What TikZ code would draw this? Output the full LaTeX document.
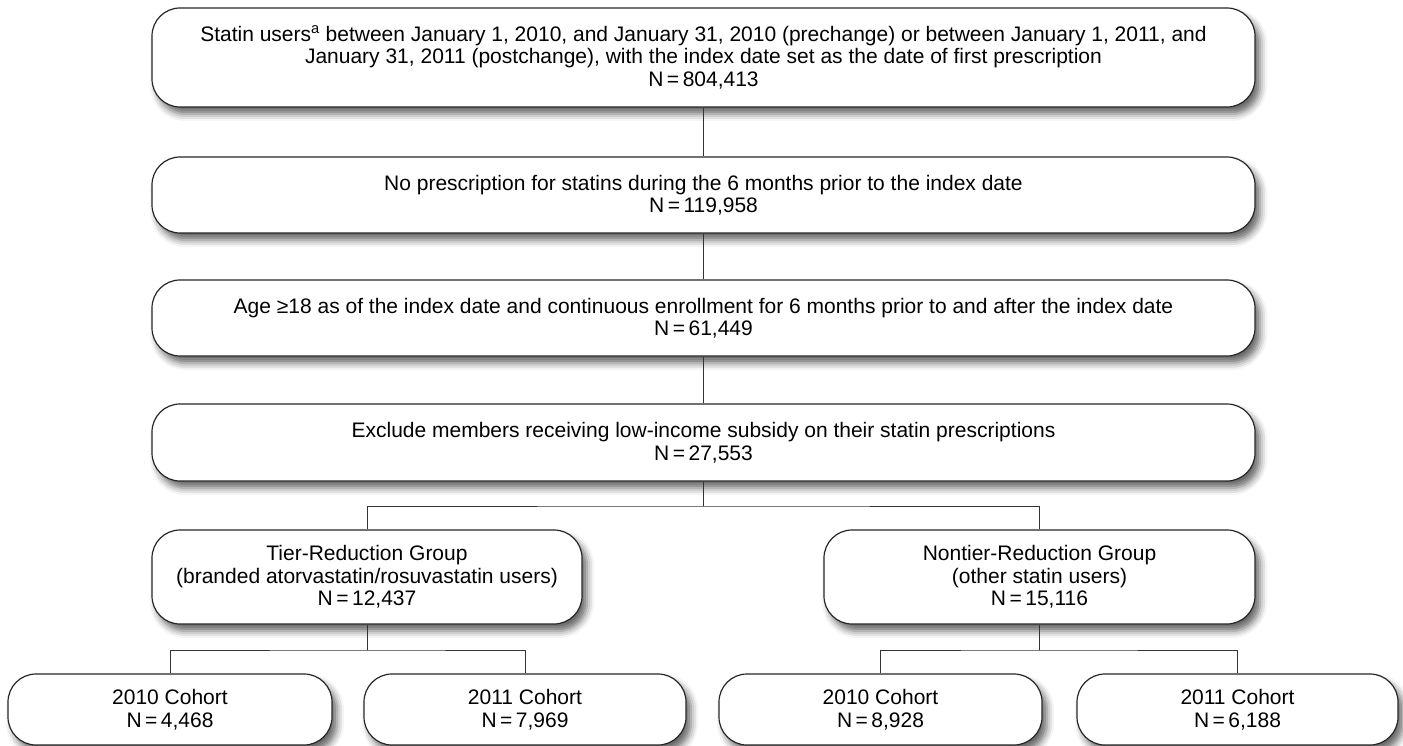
\documentclass[tikz,border=0pt]{standalone}
\usepackage{fontspec}
\setmainfont{Liberation Sans}
\usetikzlibrary{shadows.blur}
\begin{document}
\begin{tikzpicture}[x=1pt,y=-1pt,
  stagebox/.style={draw=black!85,line width=1.2pt,fill=white,rounded corners=28pt,
    align=center,inner sep=0pt,font=\fontsize{21}{22.5}\selectfont,
    blur shadow={shadow xshift=5pt,shadow yshift=-7pt,shadow blur radius=7pt,shadow opacity=60}},
  link/.style={draw=black!80,line width=0.9pt}]
\useasboundingbox (0,0) rectangle (1403,746);
\node[stagebox,minimum width=1103pt,minimum height=99pt] (users) at (703.5,57.5)
  {Statin users\textsuperscript{a} between January 1, 2010, and January 31, 2010 (prechange) or between January 1, 2011, and\\
   January 31, 2011 (postchange), with the index date set as the date of first prescription\\
   N\,=\,804,413};
\node[stagebox,minimum width=1103pt,minimum height=76pt] (norx) at (703.5,195)
  {No prescription for statins during the 6 months prior to the index date\\N\,=\,119,958};
\node[stagebox,minimum width=1103pt,minimum height=76pt] (age) at (703.5,318)
  {Age ≥18 as of the index date and continuous enrollment for 6 months prior to and after the index date\\N\,=\,61,449};
\node[stagebox,minimum width=1103pt,minimum height=77pt] (lis) at (703.5,442.5)
  {Exclude members receiving low-income subsidy on their statin prescriptions\\N\,=\,27,553};
\node[stagebox,minimum width=430pt,minimum height=94pt] (tier) at (367,577)
  {Tier-Reduction Group\\(branded atorvastatin/rosuvastatin users)\\N\,=\,12,437};
\node[stagebox,minimum width=431pt,minimum height=94pt] (nontier) at (1039.5,577)
  {Nontier-Reduction Group\\(other statin users)\\N\,=\,15,116};
\node[stagebox,minimum width=324pt,minimum height=71pt] (t10) at (170,709.5)
  {2010 Cohort\\N\,=\,4,468};
\node[stagebox,minimum width=322pt,minimum height=71pt] (t11) at (525,709.5)
  {2011 Cohort\\N\,=\,7,969};
\node[stagebox,minimum width=323pt,minimum height=71pt] (n10) at (880.5,709.5)
  {2010 Cohort\\N\,=\,8,928};
\node[stagebox,minimum width=321pt,minimum height=71pt] (n11) at (1237.5,709.5)
  {2011 Cohort\\N\,=\,6,188};
\coordinate (split) at (703.5,506);
\coordinate (tsplit) at (367,650);
\coordinate (nsplit) at (1039.5,650);
\draw[link] (users) -- (norx);
\draw[link] (norx) -- (age);
\draw[link] (age) -- (lis);
\draw[link] (lis) -- (split);
\draw[link] (tier.north) |- (split) -| (nontier.north);
\draw[link] (tier) -- (tsplit);
\draw[link] (t10.north) |- (tsplit) -| (t11.north);
\draw[link] (nontier) -- (nsplit);
\draw[link] (n10.north) |- (nsplit) -| (n11.north);
\end{tikzpicture}
\end{document}
